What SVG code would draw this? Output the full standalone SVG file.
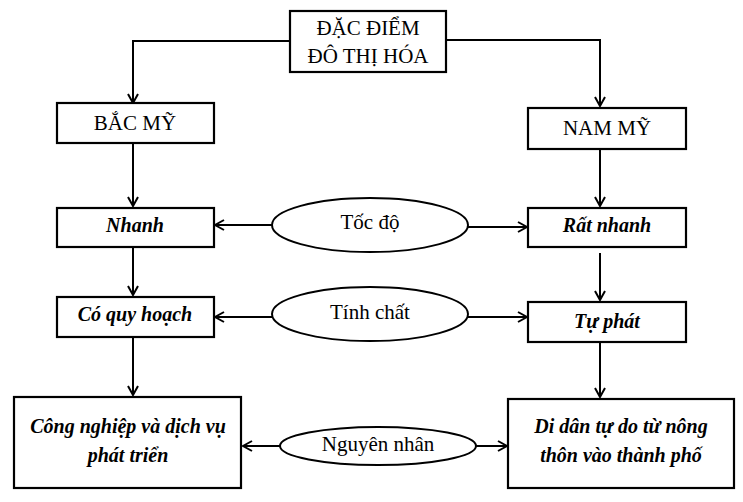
<svg xmlns="http://www.w3.org/2000/svg" width="743" height="502" viewBox="0 0 743 502">
<defs>
<marker id="ah" markerWidth="12" markerHeight="12" refX="10" refY="6" orient="auto" markerUnits="userSpaceOnUse">
<path d="M1,1 L10,6 L1,11" fill="none" stroke="#000" stroke-width="2"/>
</marker>
<style>
.box{fill:#fff;stroke:#000;stroke-width:2.2}
.ell{fill:#fff;stroke:#000;stroke-width:2}
.c{fill:none;stroke:#000;stroke-width:2;marker-end:url(#ah)}
text{font-family:"Liberation Serif","Times New Roman",serif;font-size:21px;text-anchor:middle;fill:#000}
.bi{font-weight:bold;font-style:italic;font-size:20px}
</style>
</defs>
<rect width="743" height="502" fill="#fff"/>
<g id="connectors">
<path class="c" d="M290,41 H133 V103"/>
<path class="c" d="M446,40 H600 V106"/>
<path class="c" d="M133,143 V206"/>
<path class="c" d="M600,149 V206"/>
<path class="c" d="M133,247 V295"/>
<path class="c" d="M600,253 V300"/>
<path class="c" d="M133,337 V395"/>
<path class="c" d="M600,342 V397"/>
<path class="c" d="M272,225 H215"/>
<path class="c" d="M467,227 H527"/>
<path class="c" d="M272,317 H215"/>
<path class="c" d="M467,317 H527"/>
<path class="c" d="M280,446 H243"/>
<path class="c" d="M476,446 H507"/>
</g>
<g id="n-top"><rect class="box" x="290" y="11" width="156" height="61"/><text x="368" y="35">ĐẶC ĐIỂM</text><text x="368" y="63">ĐÔ THỊ HÓA</text></g>
<g id="n-bacmy"><rect class="box" x="57" y="103" width="157" height="40"/><text x="135" y="130">BẮC MỸ</text></g>
<g id="n-nammy"><rect class="box" x="528" y="108" width="158" height="41"/><text x="607" y="135">NAM MỸ</text></g>
<g id="n-nhanh"><rect class="box" x="57" y="208" width="157" height="39"/><text class="bi" x="135" y="232">Nhanh</text></g>
<g id="n-ratnhanh"><rect class="box" x="528" y="208" width="158" height="39"/><text class="bi" x="607" y="232">Rất nhanh</text></g>
<g id="n-tocdo"><ellipse class="ell" cx="370" cy="225" rx="98" ry="27"/><text x="370" y="229">Tốc độ</text></g>
<g id="n-coquyhoach"><rect class="box" x="57" y="297" width="157" height="40"/><text class="bi" x="135" y="321">Có quy hoạch</text></g>
<g id="n-tuphat"><rect class="box" x="528" y="302" width="158" height="40"/><text class="bi" x="607" y="328">Tự phát</text></g>
<g id="n-tinhchat"><ellipse class="ell" cx="370" cy="314" rx="98" ry="27"/><text x="370" y="319">Tính chất</text></g>
<g id="n-congnghiep"><rect class="box" x="14" y="397" width="227" height="91"/><text class="bi" x="128" y="433">Công nghiệp và dịch vụ</text><text class="bi" x="128" y="462">phát triển</text></g>
<g id="n-didan"><rect class="box" x="508" y="399" width="226" height="89"/><text class="bi" x="621" y="433">Di dân tự do từ nông</text><text class="bi" x="621" y="462">thôn vào thành phố</text></g>
<g id="n-nguyennhan"><ellipse class="ell" cx="378" cy="446" rx="98" ry="19"/><text x="378" y="451">Nguyên nhân</text></g>
</svg>
